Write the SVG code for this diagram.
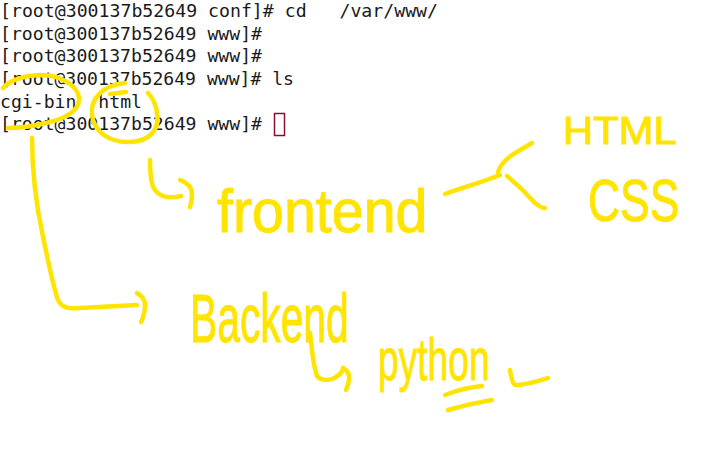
<svg xmlns="http://www.w3.org/2000/svg" width="714" height="456" viewBox="0 0 714 456">
<style>
.term{font-family:"DejaVu Sans Mono","Liberation Mono",monospace;font-size:17px;fill:#1a1a1a;white-space:pre}
.ink{fill:none;stroke:#FFE400;stroke-width:4.5;stroke-linecap:round;stroke-linejoin:round}
.hw{font-family:"Liberation Sans","DejaVu Sans",sans-serif;fill:#FFE400;stroke:#FFE400;stroke-width:1}
</style>
<rect width="714" height="456" fill="#ffffff"/>
<g id="terminal">
<text class="term" xml:space="preserve" x="0" y="17" textLength="438" lengthAdjust="spacingAndGlyphs">[root@300137b52649 conf]# cd   /var/www/</text>
<text class="term" x="0" y="39.5" textLength="262" lengthAdjust="spacingAndGlyphs">[root@300137b52649 www]#</text>
<text class="term" x="0" y="62" textLength="262" lengthAdjust="spacingAndGlyphs">[root@300137b52649 www]#</text>
<text class="term" x="0" y="85" textLength="294" lengthAdjust="spacingAndGlyphs">[root@300137b52649 www]# ls</text>
<text class="term" xml:space="preserve" x="0" y="107.5" textLength="142" lengthAdjust="spacingAndGlyphs">cgi-bin  html</text>
<text class="term" x="0" y="130" textLength="262" lengthAdjust="spacingAndGlyphs">[root@300137b52649 www]#</text>
<rect x="274.5" y="113.5" width="10" height="22" fill="none" stroke="#8B1030" stroke-width="1.5"/>
</g>
<g id="circle-cgi-bin">
<path class="ink" d="M3,88 C10,80 25,75 43,75 C62,76 78,86 79,98 C80,110 66,118 50,122 C35,126 20,128 8,128"/>
</g>
<g id="circle-html">
<path class="ink" d="M125,83 C102,85 90,100 92,115 C94,132 110,143 130,142 C150,141 160,130 157,112 C155,101 151,96 148,93"/>
<path class="ink" d="M110,94 L126,92"/>
</g>
<g id="connectors">
<path class="ink" d="M32,138 C32,165 34,195 43,237 C50,270 54,290 58,300 C62,308 68,309 80,308 C100,307 120,306 137,305"/>
<path class="ink" d="M137,293 C144,297 146,302 145,308 C144,314 143,318 141,322"/>
<path class="ink" d="M150,160 C150,175 151,185 155,190 C160,197 170,199 181,196"/>
<path class="ink" d="M180,180 C188,183 192,188 192,194 C192,200 191,204 190,207"/>
<path class="ink" d="M445,194 C465,187 485,181 500,175"/>
<path class="ink" d="M498,172 C500,165 505,160 512,155 C520,150 527,146 532,143"/>
<path class="ink" d="M507,176 C518,185 528,195 535,203 C540,207 543,208 545,208"/>
<path class="ink" d="M310,333 C312,350 313,365 317,376 C321,381 330,381 336,377 C341,374 343,370 343,368"/>
<path class="ink" d="M343,368 C348,371 350,375 349,380 C348,385 347,388 346,390"/>
<path class="ink" d="M445,395 C458,390 470,387 482,386"/>
<path class="ink" d="M448,410 C465,405 480,402 492,400"/>
<path class="ink" d="M510,370 C511,377 512,383 515,385 C525,385 538,381 548,378"/>
</g>
<g id="frontend">
<text class="hw" transform="translate(217,232) scale(0.925,1)" x="0" y="0" font-size="62">frontend</text>
</g>
<g id="html-label">
<text class="hw" transform="translate(563,144) scale(1.1,1)" x="0" y="0" font-size="38">HTML</text>
</g>
<g id="css-label">
<text class="hw" transform="translate(588,221) scale(0.74,1)" x="0" y="0" font-size="60">CSS</text>
</g>
<g id="backend">
<text class="hw" transform="translate(190,342) scale(0.6,1)" x="0" y="0" font-size="68">Backend</text>
</g>
<g id="python">
<text class="hw" transform="translate(378,380) scale(0.62,1)" x="0" y="0" font-size="60">python</text>
</g>
</svg>
